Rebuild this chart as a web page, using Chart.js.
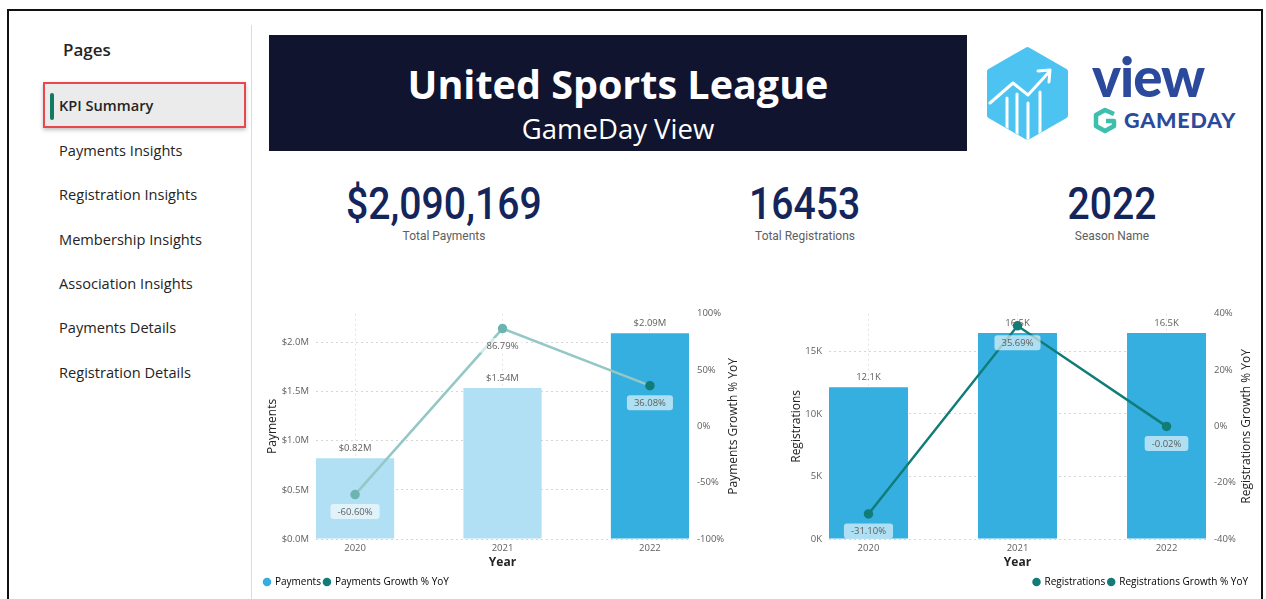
<!DOCTYPE html>
<html>
<head>
<meta charset="utf-8">
<script src="https://cdn.jsdelivr.net/npm/chart.js@4.4.1/dist/chart.umd.min.js"></script>
<style>
  html, body { margin: 0; padding: 0; background: #ffffff; }
  body { width: 1266px; height: 599px; position: relative; overflow: hidden; font-family: 'Segoe UI', 'Open Sans', sans-serif; }
  .frame { position: absolute; left: 7px; top: 9px; width: 1256px; height: 620px; border: 2px solid #111; box-sizing: border-box; pointer-events: none; z-index: 10; }
  .sep { position: absolute; left: 251px; top: 25px; width: 1px; height: 580px; background: #dcdcdc; }
  .pages { position: absolute; left: 63px; top: 38px; font-size: 17px; font-weight: 600; color: #252423; }
  .nav { position: absolute; left: 59px; font-size: 14.6px; color: #252423; white-space: nowrap; }
  .active { position: absolute; left: 43px; top: 82px; width: 203px; height: 46px; box-sizing: border-box; background: #ebebeb; border: 2px solid #e8484d; box-shadow: 0 2px 4px rgba(0,0,0,0.25); }
  .active .bar { position: absolute; left: 5px; top: 9px; width: 4px; height: 27px; background: #117a62; border-radius: 2px; }
  .header { position: absolute; left: 269px; top: 35px; width: 698px; height: 116px; background: #10142f; color: #fff; text-align: center; }
  .header .t1 { position: absolute; left: 0; right: 0; top: 24px; font-size: 39.5px; font-weight: 700; line-height: 50px; }
  .header .t2 { position: absolute; left: 0; right: 0; top: 77px; font-size: 27.5px; line-height: 34px; }
  .kpi { position: absolute; width: 300px; text-align: center; color: #14255c; }
  .kpi .num { display: inline-block; font-family: 'Roboto', sans-serif; font-weight: 500; font-size: 44px; line-height: 44px; transform: scaleX(0.89); transform-origin: center; }
  .kpi .lab { font-family: 'Roboto', sans-serif; font-size: 13px; color: #605e5c; margin-top: 2px; display: block; transform: scaleX(0.92); }
  canvas { position: absolute; }
</style>
</head>
<body>
<div class="frame"></div>
<div class="sep"></div>
<div class="pages">Pages</div>
<div class="active"><div class="bar"></div></div>
<div class="nav" style="top:95px; font-weight:600;">KPI Summary</div>
<div class="nav" style="top:140px;">Payments Insights</div>
<div class="nav" style="top:184px;">Registration Insights</div>
<div class="nav" style="top:229px;">Membership Insights</div>
<div class="nav" style="top:273px;">Association Insights</div>
<div class="nav" style="top:317px;">Payments Details</div>
<div class="nav" style="top:362px;">Registration Details</div>

<div class="header">
  <div class="t1">United Sports League</div>
  <div class="t2">GameDay View</div>
</div>

<svg style="position:absolute; left:0; top:0;" width="1266" height="160">
  <defs>
    <clipPath id="hexclip">
      <polygon points="1027.5,47 1067.8,70.25 1067.8,116.75 1027.5,140 987.2,116.75 987.2,70.25"/>
    </clipPath>
  </defs>
  <polygon points="1027.5,50 1065,71.5 1065,115.5 1027.5,137 990,115.5 990,71.5" fill="#4cc3f0" stroke="#4cc3f0" stroke-width="6" stroke-linejoin="round"/>
  <g clip-path="url(#hexclip)" stroke="#ffffff" stroke-width="3" fill="none" stroke-linecap="round" stroke-linejoin="round">
    <polyline points="990,103 1013,83 1028,95 1049,72"/>
    <polyline points="1038,71 1050,70 1049,82"/>
    <line x1="1007" y1="98" x2="1007" y2="145"/>
    <line x1="1017" y1="94" x2="1017" y2="145"/>
    <line x1="1028" y1="103" x2="1028" y2="145"/>
    <line x1="1040" y1="92" x2="1040" y2="145"/>
  </g>
  <text x="1092" y="97" font-family="Lato, sans-serif" font-weight="900" font-size="54.5" fill="#2c4a9c" letter-spacing="-1">view</text>
  <g fill="none" stroke="#3dbfae" stroke-width="4.5" stroke-linejoin="round">
    <polyline points="1114,114 1105,110 1096,115 1096,126 1105,131 1114,126 1114,121 1106,121"/>
  </g>
  <text x="1124" y="127.5" font-family="Lato, sans-serif" font-weight="900" font-size="21.5" fill="#2c4a9c" letter-spacing="0.8">GAMEDAY</text>
</svg>

<div class="kpi" style="left:294px; top:182px;"><span class="num">$2,090,169</span><span class="lab">Total Payments</span></div>
<div class="kpi" style="left:655px; top:182px;"><span class="num">16453</span><span class="lab">Total Registrations</span></div>
<div class="kpi" style="left:962px; top:182px;"><span class="num">2022</span><span class="lab">Season Name</span></div>

<canvas id="c1" style="left:261px; top:300px;" width="487" height="297"></canvas>
<canvas id="c2" style="left:785px; top:300px;" width="473" height="297"></canvas>

<script>
// ---------- data ----------
const categories = ['2020', '2021', '2022'];
const payments = [822000, 1536000, 2090169];
const paymentsGrowth = [-60.60, 86.79, 36.08];
const registrations = [12128, 16456, 16453];
const registrationsGrowth = [-31.10, 35.69, -0.02];

// ---------- styles ----------
const BLUE = '#35aee0';
const BLUE_FADED = '#b1dff3';
const TEAL = '#117c78';
const TEAL_LINE_FADED = '#93c8c6';
const TEAL_POINT_FADED = '#6db4b1';
const GRID = '#d6d6d6';
const TXT = '#605e5c';

Chart.defaults.font.family = "'Segoe UI', 'Open Sans', sans-serif";
Chart.defaults.font.size = 9.5;
Chart.defaults.color = TXT;

const dataLabels = {
  id: 'dataLabels',
  afterDatasetsDraw(chart, args, opts) {
    const ctx = chart.ctx;
    ctx.save();
    ctx.font = "9.5px 'Segoe UI', 'Open Sans', sans-serif";
    ctx.textAlign = 'center';
    chart.data.datasets.forEach((ds, di) => {
      const meta = chart.getDatasetMeta(di);
      meta.data.forEach((el, i) => {
        const v = ds.data[i].y;
        if (meta.type === 'bar') {
          ctx.fillStyle = TXT;
          ctx.textBaseline = 'bottom';
          ctx.fillText(opts.barFmt(v), el.x, el.y - 5);
        } else {
          const t = opts.lineFmt(v);
          const w = ctx.measureText(t).width + 14;
          const h = 15;
          const cy = el.y + 17;
          ctx.fillStyle = 'rgba(255,255,255,0.6)';
          ctx.beginPath();
          ctx.roundRect(el.x - w / 2, cy - h / 2, w, h, 3);
          ctx.fill();
          ctx.fillStyle = TXT;
          ctx.textBaseline = 'middle';
          ctx.fillText(t, el.x, cy + 0.5);
        }
      });
    });
    ctx.restore();
  }
};

const rightTitle = {
  id: 'rightTitle',
  afterDraw(chart, args, opts) {
    const ctx = chart.ctx;
    const a = chart.chartArea;
    ctx.save();
    ctx.translate(a.right + opts.offset, (a.top + a.bottom) / 2);
    ctx.rotate(-Math.PI / 2);
    ctx.font = "12px 'Segoe UI', 'Open Sans', sans-serif";
    ctx.fillStyle = '#252423';
    ctx.textAlign = 'center';
    ctx.textBaseline = 'middle';
    ctx.fillText(opts.text, 0, 0);
    ctx.restore();
  }
};

function stepTicks(step) {
  return s => {
    const t = [];
    for (let v = s.min; v <= s.max + 1e-9; v += step) t.push({ value: v });
    s.ticks = t;
  };
}

function makeChart(id, cfg) {
  const xs = categories.map((c, i) => i);
  return new Chart(document.getElementById(id), {
    type: 'bar',
    data: {
      datasets: [
        {
          type: 'line',
          label: cfg.lineLabel,
          data: xs.map(i => ({ x: i, y: cfg.line[i] })),
          yAxisID: 'y1',
          borderColor: cfg.lineColor,
          backgroundColor: cfg.legendLineColor,
          pointBackgroundColor: cfg.pointColors,
          pointBorderColor: cfg.pointColors,
          pointRadius: 3.5,
          borderWidth: 2.5,
          order: 0
        },
        {
          type: 'bar',
          label: cfg.barLabel,
          data: xs.map(i => ({ x: i, y: cfg.bars[i] })),
          yAxisID: 'y',
          backgroundColor: cfg.barColors,
          categoryPercentage: 1,
          barPercentage: 0.53,
          order: 1
        }
      ]
    },
    options: {
      responsive: false,
      animation: false,
      layout: { padding: { top: 11, left: 0, right: cfg.padRight, bottom: 0 } },
      scales: {
        x: {
          type: 'linear',
          min: -0.265, max: 2.265,
          offset: false,
          afterBuildTicks: s => { s.ticks = xs.map(i => ({ value: i })); },
          afterFit: s => { s.height = 35; },
          ticks: { callback: v => categories[v], padding: 4, maxRotation: 0, autoSkip: false },
          grid: { offset: false, color: '#e4e4e4', drawTicks: false },
          border: { display: false, dash: [2, 3] },
          title: { display: true, text: 'Year', font: { size: 12, weight: 'bold' }, color: '#252423', padding: { top: 0, bottom: 4 } }
        },
        y: {
          position: 'left',
          min: 0, max: cfg.yMax,
          afterBuildTicks: stepTicks(cfg.yStep),
          afterFit: s => { s.width = cfg.yWidth; },
          ticks: { padding: 7, callback: cfg.yFmt },
          grid: { color: GRID, drawTicks: false },
          border: { display: false, dash: [2, 3] },
          title: { display: true, text: cfg.barLabel, font: { size: 12 }, color: '#252423', padding: { top: 4, bottom: 0 } }
        },
        y1: {
          position: 'right',
          min: cfg.y1Min, max: cfg.y1Max,
          afterBuildTicks: stepTicks(cfg.y1Step),
          afterFit: s => { s.width = cfg.y1Width; },
          ticks: { padding: 8, callback: v => Math.round(v) + '%' },
          grid: { display: false, drawTicks: false },
          border: { display: false }
        }
      },
      plugins: {
        tooltip: { enabled: false },
        legend: {
          position: 'bottom',
          align: cfg.legendAlign,
          reverse: true,
          labels: {
            usePointStyle: true, pointStyle: 'circle', boxWidth: 6, boxHeight: 6, padding: 3,
            font: { size: 10 }, color: TXT,
            generateLabels: chart => chart.data.datasets.map((d, i) => ({
              text: d.label,
              fillStyle: i === 0 ? cfg.legendLineColor : cfg.legendBarColor,
              strokeStyle: i === 0 ? cfg.legendLineColor : cfg.legendBarColor,
              lineWidth: 0, pointStyle: 'circle', datasetIndex: i, hidden: false
            }))
          }
        },
        dataLabels: { barFmt: cfg.barFmt, lineFmt: v => v.toFixed(2) + '%' },
        rightTitle: { text: cfg.lineLabel, offset: cfg.titleOffset }
      }
    },
    plugins: [dataLabels, rightTitle]
  });
}

makeChart('c1', {
  bars: payments, line: paymentsGrowth,
  barLabel: 'Payments', lineLabel: 'Payments Growth % YoY',
  barColors: [BLUE_FADED, BLUE_FADED, BLUE],
  lineColor: TEAL_LINE_FADED,
  pointColors: [TEAL_POINT_FADED, TEAL_POINT_FADED, TEAL],
  legendBarColor: BLUE, legendLineColor: TEAL,
  yMax: 2290000, yStep: 500000, yWidth: 55,
  yFmt: v => '$' + (v / 1e6).toFixed(1) + 'M',
  y1Min: -100, y1Max: 100, y1Step: 50, y1Width: 59, padRight: 0,
  barFmt: v => '$' + (v / 1e6).toFixed(2) + 'M',
  titleOffset: 45, legendAlign: 'start'
});

makeChart('c2', {
  bars: registrations, line: registrationsGrowth,
  barLabel: 'Registrations', lineLabel: 'Registrations Growth % YoY',
  barColors: [BLUE, BLUE, BLUE],
  lineColor: TEAL,
  pointColors: [TEAL, TEAL, TEAL],
  legendBarColor: TEAL, legendLineColor: TEAL,
  yMax: 18000, yStep: 5000, yWidth: 44,
  yFmt: v => Math.round(v / 1000) + 'K',
  y1Min: -40, y1Max: 40, y1Step: 20, y1Width: 45, padRight: 7,
  barFmt: v => (v / 1000).toFixed(1) + 'K',
  titleOffset: 41, legendAlign: 'end'
});
</script>
</body>
</html>
